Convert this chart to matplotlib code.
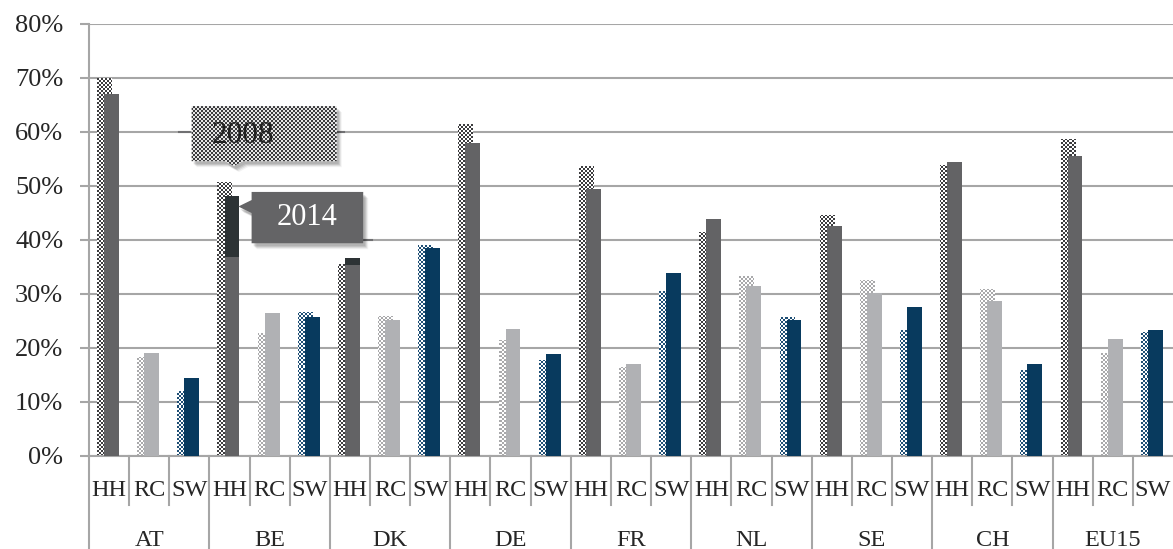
import numpy as np
import matplotlib
matplotlib.use('Agg')
import matplotlib.pyplot as plt
from matplotlib.patches import Polygon
from matplotlib.colors import to_rgba
from matplotlib import transforms

countries = ['AT', 'BE', 'DK', 'DE', 'FR', 'NL', 'SE', 'CH', 'EU15']
sectors = ['HH', 'RC', 'SW']

# shares in %, one value per country, for each sector and year
hh_2008 = [70.0, 50.8, 35.5, 61.4, 53.7, 41.5, 44.6, 53.8, 58.7]
hh_2014 = [67.0, 48.1, 36.7, 58.0, 49.5, 43.9, 42.6, 54.4, 55.6]
rc_2008 = [18.3, 22.8, 26.0, 21.5, 16.4, 33.3, 32.6, 30.9, 19.1]
rc_2014 = [19.0, 26.5, 25.2, 23.6, 17.0, 31.4, 30.1, 28.7, 21.7]
sw_2008 = [12.1, 26.7, 39.1, 17.8, 30.6, 25.8, 23.3, 15.9, 23.0]
sw_2014 = [14.4, 25.8, 38.6, 18.9, 33.9, 25.1, 27.6, 17.0, 23.3]

# lower end of the darkened top section on two 2014 HH bars (BE, DK)
dark_from = {'BE': 36.9, 'DK': 35.4}

plt.rcParams['font.family'] = 'Liberation Serif'
grid_col = '#a6a6a6'
text_col = '#262626'

solid_col = {'HH': '#636365', 'RC': '#b0b1b4', 'SW': '#083a5e'}
check_col = {'HH': '#3c3c3e', 'RC': '#a9a9ab', 'SW': '#1f4f75'}

W, H = 1173, 549
fig = plt.figure(figsize=(W / 100, H / 100), dpi=100)
ax = fig.add_axes([89 / W, 93 / H, 1084 / W, 432 / H])

n = len(countries) * len(sectors)
x = np.arange(n)
v2008 = np.array([v for trio in zip(hh_2008, rc_2008, sw_2008) for v in trio])
v2014 = np.array([v for trio in zip(hh_2014, rc_2014, sw_2014) for v in trio])
kinds = sectors * len(countries)

XLIM = (-0.5, n - 0.5)
YLIM = (0, 80)
bw = 0.37


def checker(color, cell=2, base='white'):
    ny, nx = 432 // cell, 1084 // cell
    img = np.empty((ny, nx, 4))
    img[:] = to_rgba(base)
    mask = np.add.outer(np.arange(ny), np.arange(nx)) % 2 == 0
    img[mask] = to_rgba(color)
    return img


def fill_checker(patch, color, z, base='white'):
    im = ax.imshow(checker(color, base=base), extent=(*XLIM, *YLIM), origin='lower',
                   aspect='auto', interpolation='nearest', zorder=z)
    im.set_clip_path(patch)


# 2008: checkered bars, slightly left
bars08 = ax.bar(x - 0.115, v2008, width=bw, color='white', linewidth=0, zorder=2)
for b, k in zip(bars08, kinds):
    fill_checker(b, check_col[k], 2.1)

# 2014: solid bars on top, slightly right
ax.bar(x + 0.06, v2014, width=bw, color=[solid_col[k] for k in kinds],
       linewidth=0, zorder=3)

for c, low in dark_from.items():
    i = countries.index(c) * 3
    ax.bar(x[i] + 0.06, v2014[i] - low, bottom=low, width=bw,
           color='#2d3335', linewidth=0, zorder=3.5)

ax.set_xlim(*XLIM)
ax.set_ylim(*YLIM)
ax.set_yticks(range(0, 81, 10))
ax.set_yticklabels([f'{t}%' for t in range(0, 81, 10)])
ax.yaxis.grid(True, color=grid_col, linewidth=1.5)
ax.set_axisbelow(True)
ax.tick_params(axis='y', length=6.5, width=1.5, color=grid_col, pad=12,
               labelsize=19, labelcolor=text_col)
ax.set_xticks([])
for s in ['top', 'right']:
    ax.spines[s].set_visible(False)
for s in ['left', 'bottom']:
    ax.spines[s].set_color(grid_col)
    ax.spines[s].set_linewidth(1.5)

# two-level category axis
xt = ax.get_xaxis_transform()
for i, k in enumerate(kinds):
    ax.text(i, -0.079, k, transform=xt, ha='center', va='center',
            fontsize=17.5, color=text_col)
for j, c in enumerate(countries):
    ax.text(3 * j + 1, -0.195, c, transform=xt, ha='center', va='center',
            fontsize=17.5, color=text_col)
for i in range(1, n):
    bottom = -0.215 if i % 3 == 0 else -0.113
    ax.plot([i - 0.5, i - 0.5], [0, bottom], transform=xt, color=grid_col,
            linewidth=1.5, clip_on=False)
ax.plot([-0.5, -0.5], [0, -0.215], transform=xt, color=grid_col,
        linewidth=1.5, clip_on=False)


# year callouts
def soft_shadow(verts):
    for dx, dy, a in [(3, -4, 0.10), (4, -5, 0.08), (2, -3, 0.10), (5, -6, 0.05)]:
        tr = transforms.offset_copy(ax.transData, fig=fig, x=dx, y=dy, units='dots')
        ax.add_patch(Polygon(verts, closed=True, facecolor='black', alpha=a,
                             linewidth=0, transform=tr, zorder=4.5))


x0, x1, y0, y1 = 2.056, 5.67, 54.6, 64.8
ax.plot([1.75, x0], [60, 60], color='#707072', linewidth=1.5, zorder=4.4)
ax.plot([x1, 5.85], [60, 60], color='#707072', linewidth=1.5, zorder=4.4)
call08 = [(x0, y1), (x1, y1), (x1, y0), (3.34, y0), (3.11, 53.7), (2.89, y0), (x0, y0)]
soft_shadow(call08)
p08 = Polygon(call08, closed=True, facecolor='white', linewidth=0, zorder=5)
ax.add_patch(p08)
fill_checker(p08, '#3a3a3c', 5.1, base='#e4e4e4')
ax.text(3.33, 59.4, '2008', ha='center', va='center', fontsize=22.5,
        color='#202020', zorder=6)

x0, x1, y0, y1 = 3.55, 6.33, 39.4, 48.9
ax.plot([x1, 6.55], [40, 40], color='#707072', linewidth=1.5, zorder=4.4)
call14 = [(x0, y1), (x1, y1), (x1, y0), (x0, y0), (x0, 45.0), (3.22, 46.2), (x0, 47.4)]
soft_shadow(call14)
ax.add_patch(Polygon(call14, closed=True, facecolor='#646466', linewidth=0, zorder=5))
ax.text(4.94, 44.1, '2014', ha='center', va='center', fontsize=22,
        color='white', zorder=6)

fig.savefig('out.png', dpi=100)
